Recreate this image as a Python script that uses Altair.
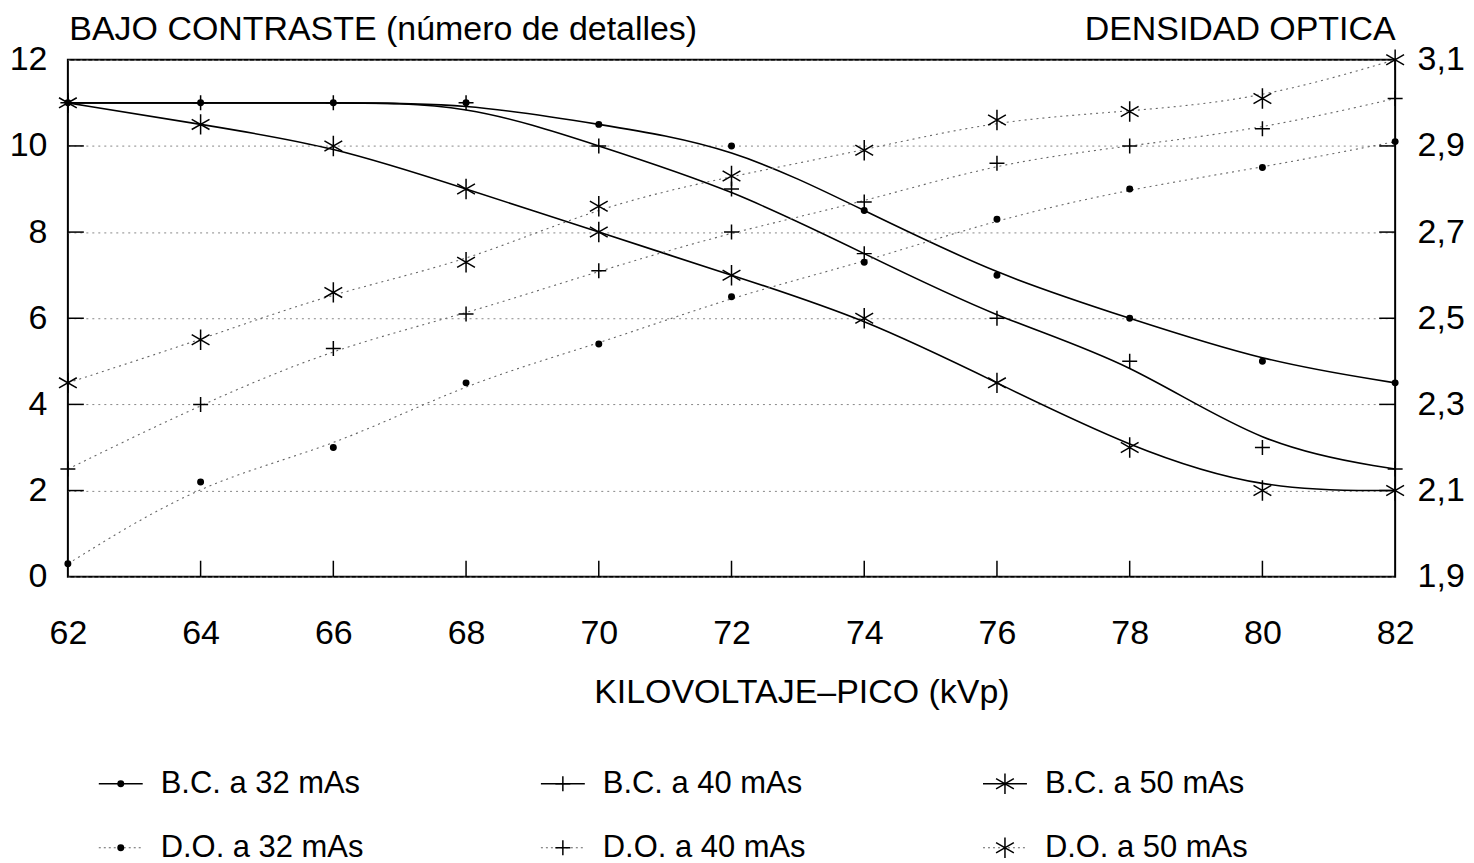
import altair as alt
import pandas as pd

# ---------------- data ----------------
kvp = [62, 64, 66, 68, 70, 72, 74, 76, 78, 80, 82]

# Bajo contraste (número de detalles) - eje izquierdo
bc_32 = [11, 11, 11, 11, 10.5, 10, 8.5, 7, 6, 5, 4.5]
bc_40 = [11, 11, 11, 11, 10, 9, 7.5, 6, 5, 3, 2.5]
bc_50 = [11, 10.5, 10, 9, 8, 7, 6, 4.5, 3, 2, 2]

# Densidad óptica - eje derecho
do_32 = [1.93, 2.12, 2.20, 2.35, 2.44, 2.55, 2.63, 2.73, 2.80, 2.85, 2.91]
do_40 = [2.15, 2.30, 2.43, 2.51, 2.61, 2.70, 2.77, 2.86, 2.90, 2.94, 3.01]
do_50 = [2.35, 2.45, 2.56, 2.63, 2.76, 2.83, 2.89, 2.96, 2.98, 3.01, 3.10]

mas_levels = ["32", "40", "50"]
bc_labels = ["B.C. a 32 mAs", "B.C. a 40 mAs", "B.C. a 50 mAs"]
do_labels = ["D.O. a 32 mAs", "D.O. a 40 mAs", "D.O. a 50 mAs"]

left_ticks = [0, 2, 4, 6, 8, 10, 12]
right_ticks = [1.9, 2.1, 2.3, 2.5, 2.7, 2.9, 3.1]

# ---------------- tables ----------------
bc_rows = []
for lab, m, vals in zip(bc_labels, mas_levels, [bc_32, bc_40, bc_50]):
    for k, v in zip(kvp, vals):
        bc_rows.append({"kVp": k, "valor": v, "mAs": m, "serie": lab})
bc_df = pd.DataFrame(bc_rows)

do_rows = []
for lab, m, vals in zip(do_labels, mas_levels, [do_32, do_40, do_50]):
    for k, v in zip(kvp, vals):
        do_rows.append({"kVp": k, "densidad": v, "mAs": m, "serie": lab})
do_df = pd.DataFrame(do_rows)

inner_x = pd.DataFrame({"kVp": kvp[1:-1]})
inner_left = pd.DataFrame({"valor": left_ticks[1:-1]})
inner_right = pd.DataFrame({"densidad": right_ticks[1:-1]})

# ---------------- styles ----------------
FONT = "Liberation Sans"
plus_path = "M-1,0L1,0M0,-1L0,1"
ast_path = "M0,-1L0,1M-0.87,-0.5L0.87,0.5M-0.87,0.5L0.87,-0.5"

shape_scale = alt.Scale(domain=mas_levels, range=["circle", plus_path, ast_path])
size_scale = alt.Scale(domain=mas_levels, range=[30, 420, 420])

x_scale = alt.Scale(domain=[62, 82], nice=False, zero=False)
x_axis = alt.Axis(values=kvp, tickSize=0, domain=False, grid=False,
                  labelPadding=40, labelFlush=False, labelFontSize=34,
                  title="KILOVOLTAJE\u2013PICO (kVp)", titleFontSize=34,
                  titleX=735, titleY=126, titleBaseline="alphabetic",
                  titleAlign="center", titleFontWeight="normal")

yl_scale = alt.Scale(domain=[0, 12], nice=False, zero=False)
yl_axis = alt.Axis(values=left_ticks, tickSize=0, domain=False, grid=True,
                   gridDash=[2, 4], gridColor="#888888", gridWidth=1,
                   labelPadding=21, labelFlush=False, labelFontSize=34,
                   title="BAJO CONTRASTE (número de detalles)", titleFontSize=34,
                   titleAngle=0, titleAlign="left", titleX=1, titleY=-20,
                   titleBaseline="alphabetic", titleFontWeight="normal")

yr_scale = alt.Scale(domain=[1.9, 3.1], nice=False, zero=False)
yr_axis = alt.Axis(orient="right", values=right_ticks, tickSize=0, domain=False,
                   grid=False, labelPadding=22, labelFlush=False, labelFontSize=34,
                   labelExpr="replace(format(datum.value, '.1f'), '.', ',')",
                   title="DENSIDAD OPTICA", titleFontSize=34, titleAngle=0,
                   titleAlign="right", titleX=0, titleY=-20,
                   titleBaseline="alphabetic", titleFontWeight="normal")

X = alt.X("kVp:Q", scale=x_scale, axis=x_axis)
YL = alt.Y("valor:Q", scale=yl_scale, axis=yl_axis)
YR = alt.Y("densidad:Q", scale=yr_scale, axis=yr_axis)

# ---------------- left group (B.C.) ----------------
bc_lines = alt.Chart(bc_df).mark_line(
    interpolate="basis", color="black", strokeWidth=1.6
).encode(x=X, y=YL, detail="serie:N")

bc_points = alt.Chart(bc_df).mark_point(
    filled=True, fill="black", stroke="black", strokeWidth=1.5, opacity=1
).encode(
    x=X, y=YL,
    shape=alt.Shape("mAs:N", scale=shape_scale, legend=None),
    size=alt.Size("mAs:O", scale=size_scale, legend=None),
)

left_in_ticks = alt.Chart(inner_left).mark_rule(
    color="black", strokeWidth=1.5, x2Offset=16
).encode(
    x=alt.X(datum=62, scale=x_scale, axis=x_axis),
    x2=alt.X2(datum=62),
    y=YL,
)

bottom_in_ticks = alt.Chart(inner_x).mark_rule(
    color="black", strokeWidth=1.5, y2Offset=-16
).encode(
    x=X,
    y=alt.Y(datum=0, scale=yl_scale, axis=yl_axis),
    y2=alt.Y2(datum=0),
)

left_group = alt.layer(bc_lines, bottom_in_ticks, left_in_ticks, bc_points)

# ---------------- right group (D.O.) ----------------
do_lines = alt.Chart(do_df).mark_line(
    interpolate="basis", color="#666666", strokeWidth=1.1, strokeDash=[2, 4]
).encode(x=X, y=YR, detail="serie:N")

do_points = alt.Chart(do_df).mark_point(
    filled=True, fill="black", stroke="black", strokeWidth=1.5, opacity=1
).encode(
    x=X, y=YR,
    shape=alt.Shape("mAs:N", scale=shape_scale, legend=None),
    size=alt.Size("mAs:O", scale=size_scale, legend=None),
)

right_in_ticks = alt.Chart(inner_right).mark_rule(
    color="black", strokeWidth=1.5, x2Offset=-16
).encode(
    x=alt.X(datum=82, scale=x_scale, axis=x_axis),
    x2=alt.X2(datum=82),
    y=YR,
)

right_group = alt.layer(do_lines, right_in_ticks, do_points)

main = alt.layer(left_group, right_group).resolve_scale(y="independent").properties(
    width=1330, height=518
)

# ---------------- legend panel ----------------
leg_df = pd.DataFrame({
    "serie": bc_labels + do_labels,
    "fila": ["B.C."] * 3 + ["D.O."] * 3,
    "mAs": mas_levels + mas_levels,
})

lx = alt.X("mAs:N", scale=alt.Scale(type="point", padding=0.1196), axis=None)
ly = alt.Y("fila:N", scale=alt.Scale(type="point", padding=0.1), axis=None)

leg_rules = alt.Chart(leg_df).mark_rule(xOffset=-22, x2Offset=22).encode(
    x=lx, x2=alt.X2("mAs:N"), y=ly,
    strokeDash=alt.StrokeDash("fila:N", scale=alt.Scale(domain=["B.C.", "D.O."], range=[[1, 0], [2, 3]]), legend=None),
    color=alt.Color("fila:N", scale=alt.Scale(domain=["B.C.", "D.O."], range=["black", "#666666"]), legend=None),
    strokeWidth=alt.StrokeWidth("fila:N", scale=alt.Scale(domain=["B.C.", "D.O."], range=[1.6, 1.1]), legend=None),
)

leg_points = alt.Chart(leg_df).mark_point(
    filled=True, fill="black", stroke="black", strokeWidth=1.5, opacity=1
).encode(
    x=lx, y=ly,
    shape=alt.Shape("mAs:N", scale=shape_scale, legend=None),
    size=alt.Size("mAs:O", scale=size_scale, legend=None),
)

leg_text = alt.Chart(leg_df).mark_text(
    align="left", baseline="middle", dx=40, fontSize=31, font=FONT, color="black"
).encode(x=lx, y=ly, text="serie:N")

legend = alt.layer(leg_rules, leg_points, leg_text).properties(
    width=992, height=77, view=alt.ViewBackground(stroke="transparent")
)

chart = alt.vconcat(main, legend, spacing=56).properties(
    padding={"left": 0, "top": 3, "right": 0, "bottom": 0}
).configure(font=FONT).configure_view(
    stroke="black", strokeWidth=2
).configure_axis(
    labelColor="black", titleColor="black", labelFont=FONT, titleFont=FONT
)

chart.save("out.html", embed_options={"renderer": "svg", "actions": False})
